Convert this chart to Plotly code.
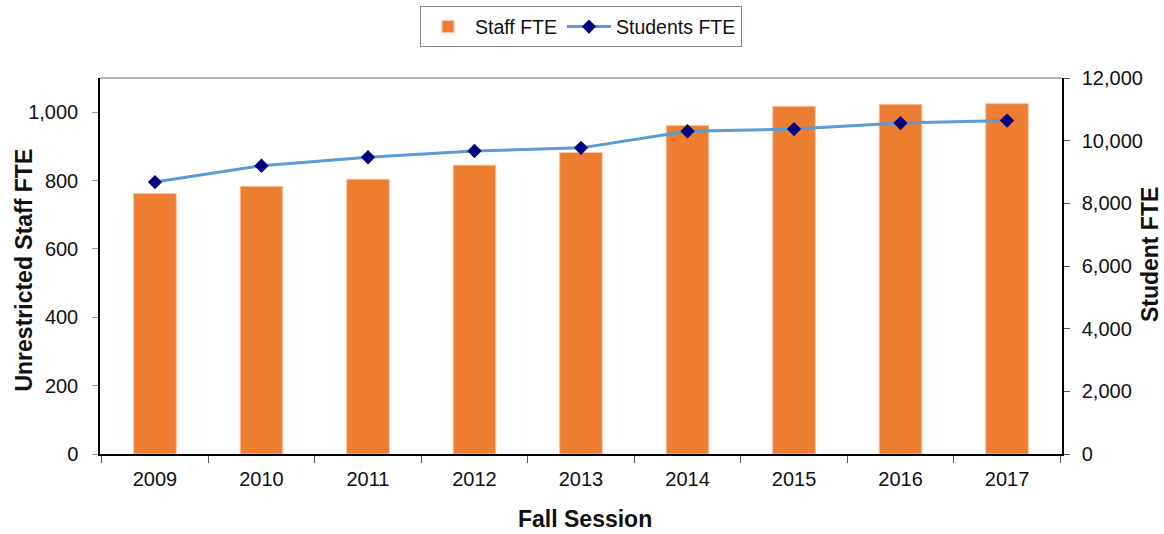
import plotly.graph_objects as go

years = ["2009", "2010", "2011", "2012", "2013", "2014", "2015", "2016", "2017"]
staff_fte = [762, 783, 804, 845, 882, 961, 1017, 1023, 1025]
student_fte = [8680, 9200, 9470, 9670, 9770, 10300, 10370, 10560, 10640]

FONT = "Liberation Sans, Arial, sans-serif"

fig = go.Figure()
fig.add_trace(go.Bar(
    x=years, y=staff_fte, name="Staff FTE",
    marker=dict(color="#ED7D31", line=dict(color="#F6C3A0", width=1)),
    width=0.4,
))
fig.add_trace(go.Scatter(
    x=years, y=student_fte, name="Students FTE", yaxis="y2",
    mode="lines+markers",
    line=dict(color="#5B9BD5", width=3),
    marker=dict(symbol="diamond", size=11, color="#000080"),
))

fig.update_layout(
    width=1164, height=534,
    margin=dict(l=100, r=102, t=78, b=80),
    paper_bgcolor="white", plot_bgcolor="white",
    font=dict(family=FONT, size=20, color="#111"),
    showlegend=True,
    legend=dict(orientation="h", x=0.5, xanchor="center", y=0.988, yref="container", yanchor="top",
                bordercolor="#888", borderwidth=1, font=dict(size=19.5),
                itemwidth=44, tracegroupgap=0),
    xaxis=dict(type="category", showline=True, linecolor="black", linewidth=1.5,
               ticks="outside", tickson="boundaries", ticklen=7, tickcolor="#555",
               ticklabelstandoff=6, showgrid=False, tickfont=dict(size=20)),
    yaxis=dict(range=[0, 1100], tickvals=[0, 200, 400, 600, 800, 1000], tickformat=",",
               showline=True, linecolor="black", linewidth=1.5, ticklabelstandoff=10,
               ticks="outside", ticklen=6, tickcolor="#999", showgrid=False, zeroline=False),
    yaxis2=dict(range=[0, 12000], tickvals=[0, 2000, 4000, 6000, 8000, 10000, 12000], tickformat=",",
                overlaying="y", side="right", ticklabelstandoff=8,
                showline=True, linecolor="black", linewidth=1.5,
                ticks="outside", ticklen=6, tickcolor="#555", showgrid=False, zeroline=False),
    shapes=[dict(type="line", xref="paper", yref="paper", x0=0, x1=1, y0=1, y1=1,
                 line=dict(color="#999", width=1.5))],
    annotations=[
        dict(text="<b>Unrestricted Staff FTE</b>", xref="paper", yref="paper", x=-0.080, y=0.488,
             xanchor="center", yanchor="middle", textangle=-90, showarrow=False, font=dict(size=23)),
        dict(text="<b>Student FTE</b>", xref="paper", yref="paper", x=1.0915, y=0.529,
             xanchor="center", yanchor="middle", textangle=-90, showarrow=False, font=dict(size=23)),
        dict(text="<b>Fall Session</b>", xref="paper", yref="paper", x=0.504, y=-0.174,
             xanchor="center", yanchor="middle", showarrow=False, font=dict(size=23)),
    ],
)

fig.write_html("out.html", config={"displayModeBar": False},
               post_script="document.body.style.margin='0';")
